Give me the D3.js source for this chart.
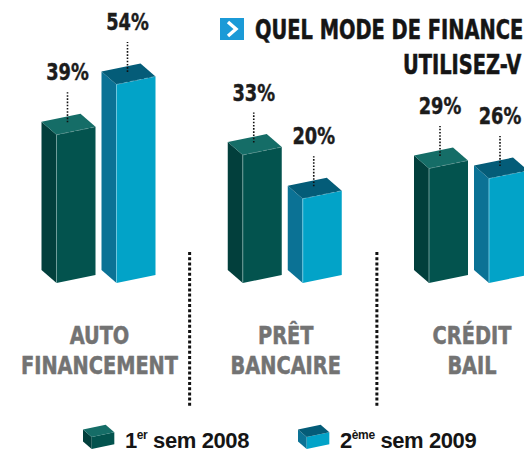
<!DOCTYPE html>
<html>
<head>
<meta charset="utf-8">
<script src="https://cdn.jsdelivr.net/npm/d3@7"></script>
<style>
  html, body { margin: 0; padding: 0; background: #fff; }
  svg { display: block; }
</style>
</head>
<body>
<svg id="chart" width="524" height="450"></svg>
<script>
// ---- data ----
const categories = [["AUTO", "FINANCEMENT"], ["PRÊT", "BANCAIRE"], ["CRÉDIT", "BAIL"]];
const categoryKeys = ["auto", "pret", "credit"];
const seriesNames = ["1er sem 2008", "2ème sem 2009"];
const values2008 = [39, 33, 29];
const values2009 = [54, 20, 26];
// title as visible in the (cropped) reference
const titleLines = ["QUEL MODE DE FINANCE", "UTILISEZ-V"];

const svg = d3.select("#chart");
const NARROW = "DejaVu Sans Condensed, DejaVu Sans, sans-serif";
const BOLD = "Liberation Sans, Arial, sans-serif";

function condense(sel, k) {
  sel.each(function () {
    const w = this.getComputedTextLength();
    d3.select(this).attr("textLength", w * k).attr("lengthAdjust", "spacingAndGlyphs");
  });
  return sel;
}

const palettes = [
  { front: "#03534e", side: "#023f3c", top: "#156d67", edge: "#6f9c99" },
  { front: "#02a3c8", side: "#0b7295", top: "#045c78", edge: "#6cc6de" }
];

// scales
const x0 = d3.scalePoint().domain(categoryKeys).range([99.5, 472]);
const x1 = d3.scaleBand().domain(seriesNames).range([-58, 62]);
const y = d3.scaleLinear().domain([0, 54]).range([17, 198.6]);

const BASE = 283;
const SIDE_W = 15, SIDE_D = 13;
const FRONT_W = 39, FRONT_S = 8;

function boxFaces(L, yb, h, k = 1) {
  const sw = SIDE_W * k, sd = SIDE_D * k, fw = FRONT_W * k, fs = FRONT_S * k;
  const fl = [L + sw, yb], fr = [L + sw + fw, yb - fs], bl = [L, yb - sd];
  const up = p => [p[0], p[1] - h];
  const br = [L + fw, yb - sd - fs];
  return {
    side: [up(bl), up(fl), fl, bl],
    front: [up(fl), up(fr), fr, fl],
    top: [up(bl), up(fl), up(fr), up(br)],
    edge: [up(fl), fl],
    topEdge: [up(fl), up(fr)]
  };
}

const line = d3.line();
const rows = [];
categoryKeys.forEach((c, i) => {
  rows.push({ cat: c, s: 0, v: values2008[i] });
  rows.push({ cat: c, s: 1, v: values2009[i] });
});

const g = svg.append("g");
rows.forEach(d => {
  const L = x0(d.cat) + x1(seriesNames[d.s]);
  const h = y(d.v);
  const f = boxFaces(L, BASE, h);
  const p = palettes[d.s];
  const bg = g.append("g");
  bg.append("path").attr("d", line(f.side) + "Z").attr("fill", p.side);
  bg.append("path").attr("d", line(f.front) + "Z").attr("fill", p.front);
  bg.append("path").attr("d", line(f.top) + "Z").attr("fill", p.top);
  bg.append("path").attr("d", line(f.edge)).attr("stroke", p.edge).attr("stroke-width", 1).attr("fill", "none");
  bg.append("path").attr("d", line(f.topEdge)).attr("stroke", p.edge).attr("stroke-width", 0.8)
    .attr("stroke-dasharray", "4,3").attr("fill", "none").attr("opacity", 0.7);

  const cx = L + 26;
  const topC = BASE - 10.5 - h - 2;
  g.append("line").attr("x1", cx).attr("x2", cx).attr("y1", topC).attr("y2", topC - 30)
    .attr("stroke", "#111").attr("stroke-width", 1.6).attr("stroke-dasharray", "1.6,1.6");
  const lbl = g.append("text").attr("x", cx).attr("y", topC - 42)
    .attr("text-anchor", "middle")
    .attr("font-family", NARROW)
    .attr("font-weight", "bold").attr("font-size", 23)
    .attr("fill", "#1c1c1c").attr("stroke", "#1c1c1c").attr("stroke-width", 0.4)
    .text(d.v + "%");
  condense(lbl, 0.86);
});

// category labels
categoryKeys.forEach((c, i) => {
  categories[i].forEach((ln, j) => {
    const t = svg.append("text")
      .attr("x", x0(c)).attr("y", 344 + j * 30)
      .attr("text-anchor", "middle")
      .attr("font-family", NARROW)
      .attr("font-weight", "bold").attr("font-size", 25)
      .attr("fill", "#737373").attr("stroke", "#737373").attr("stroke-width", 0.5)
      .text(ln);
    condense(t, 0.86);
  });
});

// dotted dividers
const divX = [(x0("auto") + x0("pret")) / 2 - 3, (x0("pret") + x0("credit")) / 2 - 2];
divX.forEach(xv => {
  svg.append("line").attr("x1", xv).attr("x2", xv).attr("y1", 252).attr("y2", 406)
    .attr("stroke", "#111").attr("stroke-width", 3).attr("stroke-dasharray", "3,2.2");
});

// title
svg.append("rect").attr("x", 220).attr("y", 18).attr("width", 24).attr("height", 22).attr("fill", "#1b9ad7");
svg.append("path").attr("d", "M228,22 L236,29 L228,36").attr("stroke", "#fff").attr("stroke-width", 3.4)
  .attr("fill", "none").attr("stroke-linejoin", "miter");
const t1 = svg.append("text").attr("x", 255).attr("y", 39)
  .attr("font-family", NARROW)
  .attr("font-weight", "bold").attr("font-size", 26).attr("fill", "#151515")
  .attr("stroke", "#151515").attr("stroke-width", 0.5)
  .text(titleLines[0]);
condense(t1, 0.83);
const t2 = svg.append("text").attr("x", 403).attr("y", 74)
  .attr("font-family", NARROW)
  .attr("font-weight", "bold").attr("font-size", 26).attr("fill", "#151515")
  .attr("stroke", "#151515").attr("stroke-width", 0.5)
  .text(titleLines[1]);
condense(t2, 0.83);

// legend
const legX = [83, 298];
const supText = ["er", "ème"];
const mainA = ["1", "2"];
const restText = [" sem 2008", " sem 2009"];
seriesNames.forEach((s, i) => {
  const p = palettes[i];
  const f = boxFaces(legX[i], 449, 12, 0.58);
  const lg = svg.append("g");
  lg.append("path").attr("d", line(f.side) + "Z").attr("fill", p.side);
  lg.append("path").attr("d", line(f.front) + "Z").attr("fill", p.front);
  lg.append("path").attr("d", line(f.top) + "Z").attr("fill", p.top);
  const t = svg.append("text").attr("x", legX[i] + 42).attr("y", 448)
    .attr("font-family", BOLD)
    .attr("font-weight", "bold").attr("font-size", 22).attr("fill", "#151515")
    .attr("letter-spacing", "-0.4");
  t.append("tspan").text(mainA[i]);
  t.append("tspan").attr("font-size", 12).attr("dy", -9).text(supText[i]);
  t.append("tspan").attr("dy", 9).text(restText[i]);
});
</script>
</body>
</html>
